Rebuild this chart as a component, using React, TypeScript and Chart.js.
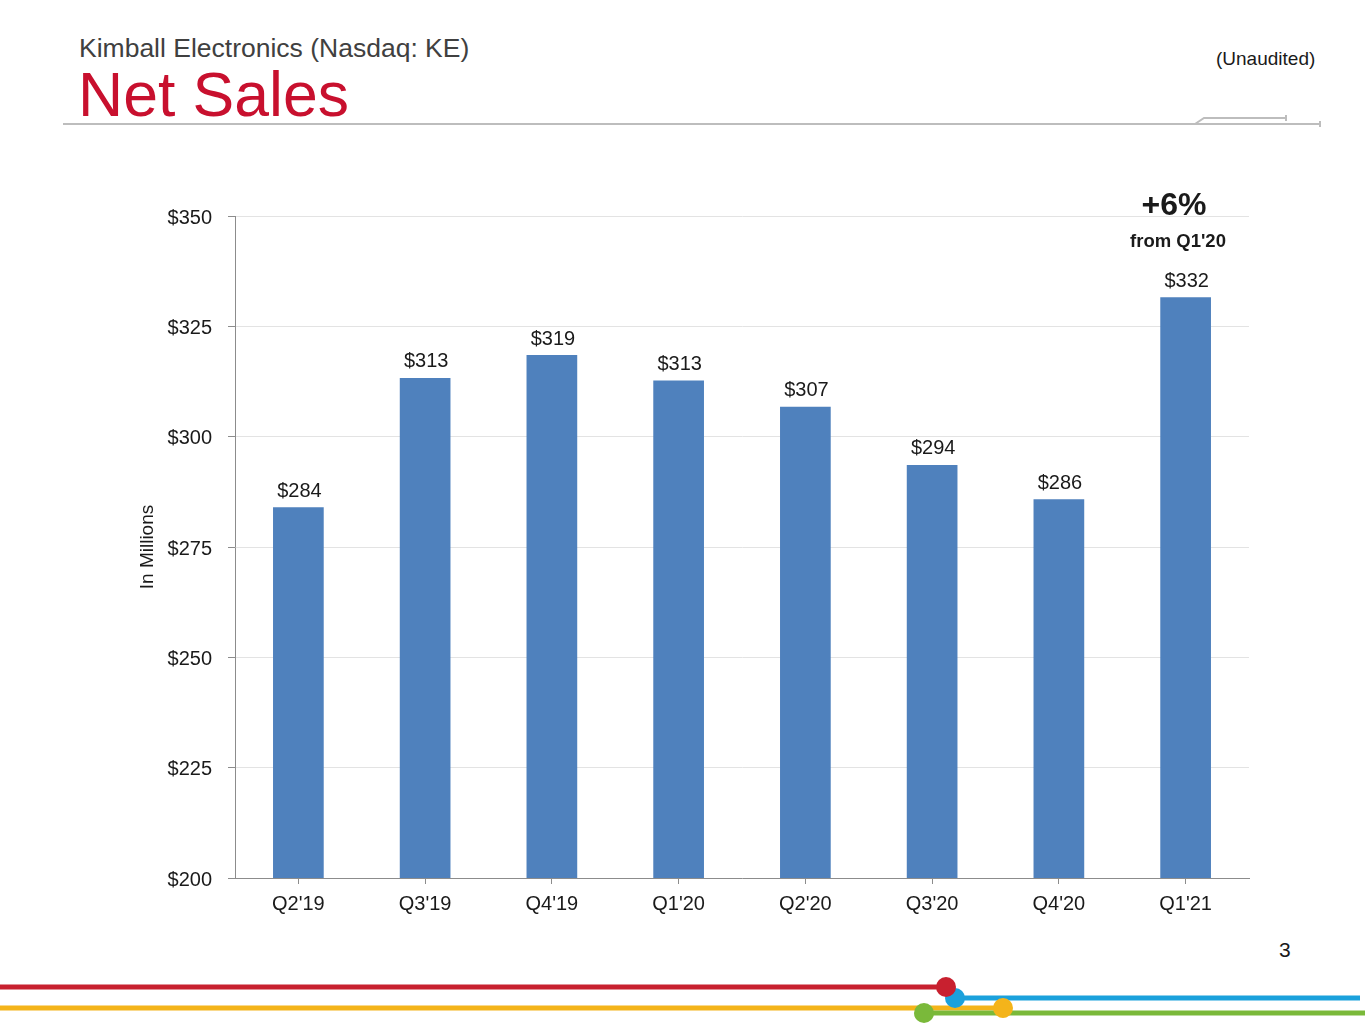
import React, { useEffect, useRef } from 'react';
import { Chart, registerables } from 'chart.js';

Chart.register(...registerables);

const quarters = ["Q2'19", "Q3'19", "Q4'19", "Q1'20", "Q2'20", "Q3'20", "Q4'20", "Q1'21"];
const netSales = [284.0, 313.3, 318.5, 312.7, 306.8, 293.6, 285.8, 331.6];
const yTicks = [200, 225, 250, 275, 300, 325, 350];

const FONT = "'Liberation Sans', Arial, sans-serif";
const BAR_BLUE = '#4F81BD';

const valueLabels = {
    id: 'valueLabels',
    afterDatasetsDraw(chart: any) {
        const ctx = chart.ctx;
        const meta = chart.getDatasetMeta(0);
        ctx.save();
        ctx.font = `20px ${FONT}`;
        ctx.fillStyle = '#1a1a1a';
        ctx.textAlign = 'center';
        ctx.textBaseline = 'bottom';
        meta.data.forEach((bar: any, i: number) => {
            ctx.fillText('$' + Math.round(netSales[i]), bar.x + 1, bar.y - 6);
        });
        ctx.restore();
    }
};

const NetSalesChart = () => {
    const canvasRef = useRef<HTMLCanvasElement>(null);

    useEffect(() => {
        let chart: Chart | null = null;
        if (canvasRef.current) {
            const ctx = canvasRef.current.getContext('2d');
            if (ctx) {
                chart = new Chart(ctx, {
                    type: 'bar',
                    data: {
                        labels: quarters,
                        datasets: [{
                            data: netSales,
                            backgroundColor: BAR_BLUE,
                            borderWidth: 0,
                            categoryPercentage: 1,
                            barPercentage: 0.4
                        }]
                    },
                    options: {
                        animation: false,
                        responsive: true,
                        maintainAspectRatio: false,
                        layout: { padding: { top: 20, right: 11, bottom: 0, left: 0 } },
                        plugins: {
                            legend: { display: false },
                            tooltip: { enabled: false }
                        },
                        scales: {
                            x: {
                                grid: {
                                    offset: false,
                                    drawOnChartArea: false,
                                    tickLength: 6,
                                    tickColor: '#8c8c8c'
                                },
                                border: { color: '#8c8c8c', width: 1 },
                                ticks: {
                                    color: '#1a1a1a',
                                    font: { family: FONT, size: 20 },
                                    padding: 8
                                },
                                afterFit: (scale: any) => { scale.height = 52; }
                            },
                            y: {
                                min: 200,
                                max: 350,
                                afterBuildTicks: (scale: any) => {
                                    scale.ticks = yTicks.map(v => ({ value: v }));
                                },
                                grid: {
                                    color: '#e3e3e3',
                                    tickLength: 7,
                                    tickColor: '#8c8c8c'
                                },
                                border: { color: '#8c8c8c', width: 1 },
                                ticks: {
                                    color: '#1a1a1a',
                                    font: { family: FONT, size: 20 },
                                    padding: 16,
                                    labelOffset: 2,
                                    callback: (v: any) => '$' + v
                                },
                                title: {
                                    display: true,
                                    text: 'In Millions',
                                    color: '#1a1a1a',
                                    font: { family: FONT, size: 19 },
                                    padding: 6
                                },
                                afterFit: (scale: any) => { scale.width = 105; }
                            }
                        }
                    },
                    plugins: [valueLabels]
                });
            }
        }
        return () => {
            if (chart) chart.destroy();
        };
    }, []);

    return (
        <div style={{ position: 'absolute', left: 130, top: 188, width: 1130, height: 742 }}>
            <canvas ref={canvasRef}></canvas>
        </div>
    );
};

const App = () => {
    return (
        <div style={{ position: 'absolute', left: 0, top: 0, width: 1365, height: 1024, background: '#fff', overflow: 'hidden', fontFamily: FONT }}>
            <div style={{ position: 'absolute', left: 79, top: 33, fontSize: 26.5, color: '#404040', whiteSpace: 'nowrap' }}>
                Kimball Electronics (Nasdaq: KE)
            </div>
            <div style={{ position: 'absolute', left: 78, top: 58, fontSize: 62.5, color: '#C8102E', whiteSpace: 'nowrap', lineHeight: '72px' }}>
                Net Sales
            </div>
            <div style={{ position: 'absolute', left: 1216, top: 48, fontSize: 19, color: '#1a1a1a', whiteSpace: 'nowrap' }}>
                (Unaudited)
            </div>
            <svg width={1365} height={1024} style={{ position: 'absolute', left: 0, top: 0 }}>
                <line x1={63} y1={124} x2={1320} y2={124} stroke="#bdbdbd" strokeWidth={2} />
                <polyline points="1195,124 1204,118 1285,118" fill="none" stroke="#bdbdbd" strokeWidth={2} />
                <line x1={1286} y1={115} x2={1286} y2={121} stroke="#bdbdbd" strokeWidth={2} />
                <line x1={1320} y1={121} x2={1320} y2={127} stroke="#bdbdbd" strokeWidth={2} />
                <line x1={0} y1={987} x2={947} y2={987} stroke="#C8202F" strokeWidth={5} />
                <line x1={955} y1={998} x2={1360} y2={998} stroke="#1BA1DC" strokeWidth={5} />
                <line x1={0} y1={1008} x2={1003} y2={1008} stroke="#F4B41A" strokeWidth={5} />
                <line x1={924} y1={1013} x2={1365} y2={1013} stroke="#7AB93A" strokeWidth={5} />
                <circle cx={924} cy={1013} r={10} fill="#7AB93A" />
                <circle cx={1003} cy={1008} r={10} fill="#F4B41A" />
                <circle cx={955} cy={998} r={10} fill="#1BA1DC" />
                <circle cx={946} cy={987} r={10} fill="#C8202F" />
            </svg>
            <NetSalesChart />
            <div style={{ position: 'absolute', left: 1074, top: 186, width: 200, textAlign: 'center', fontSize: 32, fontWeight: 'bold', color: '#1a1a1a' }}>
                +6%
            </div>
            <div style={{ position: 'absolute', left: 1078, top: 230, width: 200, textAlign: 'center', fontSize: 18.5, fontWeight: 'bold', color: '#1a1a1a' }}>
                from Q1'20
            </div>
            <div style={{ position: 'absolute', left: 1279, top: 938, fontSize: 21, color: '#1a1a1a' }}>
                3
            </div>
        </div>
    );
};

export default App;
